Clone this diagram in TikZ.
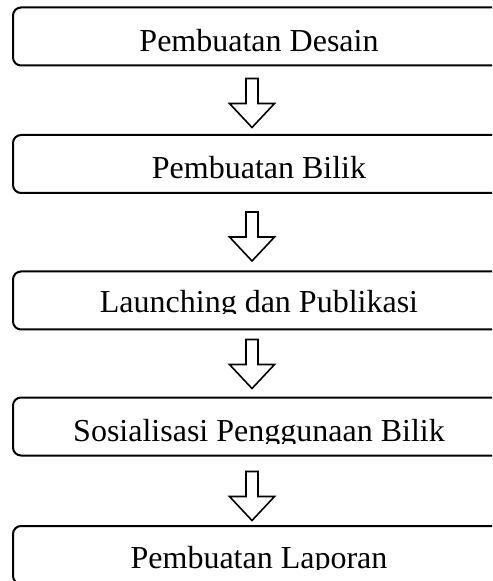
\documentclass[tikz,border=0pt]{standalone}
\usepackage{fontspec}
\setmainfont{Liberation Serif}
\usetikzlibrary{calc}

\begin{document}
\begin{tikzpicture}[
    x=0.5pt, y=-0.5pt,
    stepbox/.style={draw, line width=1pt, rounded corners=4pt,
      minimum width=246pt, minimum height=29pt, inner sep=0pt},
    steptext/.style={anchor=base, inner sep=0pt, font=\fontsize{16pt}{19pt}\selectfont},
    blockarrow/.style={draw, line width=0.8pt, line join=miter, fill=white}]

  \useasboundingbox (0,0) rectangle (492,581);
  \clip (0,0) rectangle (492,581);

  % the five steps
  \node[stepbox] (b1) at (259,36.5) {};
  \node[stepbox] (b2) at (259,164) {};
  \node[stepbox] (b3) at (259,300.5) {};
  \node[stepbox] (b4) at (259,426.5) {};
  \node[stepbox] (b5) at (259,555) {};

  % texts, cut off at the foot as in the text boxes
  \begin{scope}
    \clip (b1.north west) rectangle ($(b1.east)+(0,17)$);
    \node[steptext] (t1) at ($(b1.center)+(0,15.5)$) {Pembuatan Desain};
  \end{scope}
  \begin{scope}
    \clip (b2.north west) rectangle ($(b2.east)+(0,16)$);
    \node[steptext] (t2) at ($(b2.center)+(0,15)$) {Pembuatan Bilik};
  \end{scope}
  \begin{scope}
    \clip (b3.north west) rectangle ($(b3.east)+(0,13.5)$);
    \node[steptext] (t3) at ($(b3.center)+(0,12.5)$) {Launching dan Publikasi};
  \end{scope}
  \begin{scope}
    \clip (b4.north west) rectangle ($(b4.east)+(0,16.5)$);
    \node[steptext] (t4) at ($(b4.center)+(0,14.5)$) {Sosialisasi Penggunaan Bilik};
  \end{scope}
  \begin{scope}
    \clip (b5.north west) rectangle ($(b5.east)+(0,14.5)$);
    \node[steptext] (t5) at ($(b5.center)+(0,13)$) {Pembuatan Laporan};
  \end{scope}

  % block arrows between the steps
  \coordinate (a1) at ($(b1.south)+(-7,12)$);
  \coordinate (a2) at ($(b2.south)+(-7,18)$);
  \coordinate (a3) at ($(b3.south)+(-7,9)$);
  \coordinate (a4) at ($(b4.south)+(-7,15)$);
  \draw[blockarrow] (a1) ++(-6,0) -- ++(0,25) -- ++(-16.5,0) -- ++(22.5,24)
    -- ++(22.5,-24) -- ++(-16.5,0) -- ++(0,-25) -- cycle;
  \draw[blockarrow] (a2) ++(-6,0) -- ++(0,25) -- ++(-16.5,0) -- ++(22.5,24)
    -- ++(22.5,-24) -- ++(-16.5,0) -- ++(0,-25) -- cycle;
  \draw[blockarrow] (a3) ++(-6,0) -- ++(0,25) -- ++(-16.5,0) -- ++(22.5,24)
    -- ++(22.5,-24) -- ++(-16.5,0) -- ++(0,-25) -- cycle;
  \draw[blockarrow] (a4) ++(-6,0) -- ++(0,25) -- ++(-16.5,0) -- ++(22.5,24)
    -- ++(22.5,-24) -- ++(-16.5,0) -- ++(0,-25) -- cycle;
\end{tikzpicture}
\end{document}
